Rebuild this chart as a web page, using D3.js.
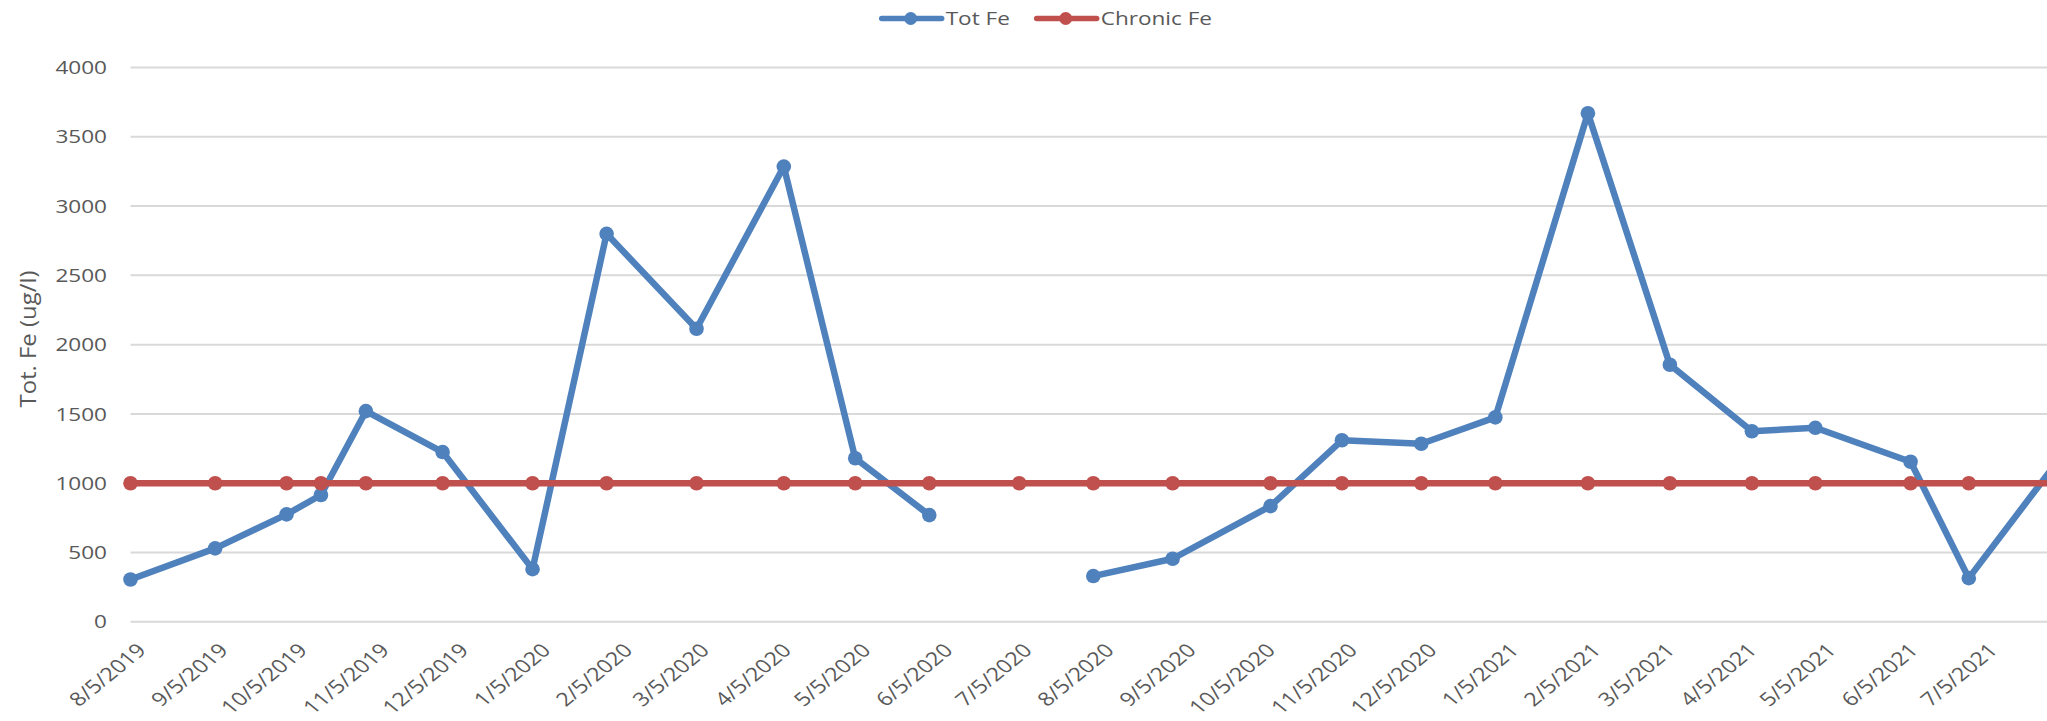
<!DOCTYPE html>
<html><head><meta charset="utf-8">
<script src="https://cdn.jsdelivr.net/npm/d3@7"></script>
<style>html,body{margin:0;padding:0;background:#fff;overflow:hidden}</style>
</head><body><div id="chart"></div>
<script>
// ---- data ----
const sampleDates = ["2019-08-05","2019-09-06","2019-10-03","2019-10-16","2019-11-02","2019-12-01",
  "2020-01-04","2020-02-01","2020-03-06","2020-04-08","2020-05-05","2020-06-02","2020-07-06",
  "2020-08-03","2020-09-02","2020-10-09","2020-11-05","2020-12-05","2021-01-02","2021-02-06",
  "2021-03-09","2021-04-09","2021-05-03","2021-06-08","2021-06-30","2021-08-03"];
const totFe = [305,530,775,915,1520,1225,380,2800,2115,3285,1180,770,null,
  330,455,835,1310,1285,1475,3670,1855,1375,1400,1155,315,1170];
const chronicFe = [1000,1000,1000,1000,1000,1000,1000,1000,1000,1000,1000,1000,1000,
  1000,1000,1000,1000,1000,1000,1000,1000,1000,1000,1000,1000,1000];
const xTickLabels = ["8/5/2019","9/5/2019","10/5/2019","11/5/2019","12/5/2019","1/5/2020",
  "2/5/2020","3/5/2020","4/5/2020","5/5/2020","6/5/2020","7/5/2020","8/5/2020","9/5/2020",
  "10/5/2020","11/5/2020","12/5/2020","1/5/2021","2/5/2021","3/5/2021","4/5/2021","5/5/2021",
  "6/5/2021","7/5/2021"];
const yTicks = [0,500,1000,1500,2000,2500,3000,3500,4000];
const seriesNames = ["Tot Fe","Chronic Fe"];
const yTitle = "Tot. Fe (ug/l)";

// ---- layout ----
const W = 2047, H = 721;
const SX = 1.22;               // horizontal text stretch seen in the reference
const FONT = "'Open Sans', 'Noto Sans', sans-serif";
const TXT = "#595959";
const BLUE = "#4F81BD", RED = "#C0504D";

const parseISO = d3.utcParse("%Y-%m-%d");
const parseMDY = d3.utcParse("%-m/%-d/%Y");

const x = d3.scaleUtc()
  .domain([parseISO("2019-08-05"), parseISO("2021-08-05")])
  .range([130.5, 130.5 + 731 * 2.645]);
const y = d3.scaleLinear().domain([0, 4000]).range([621.8, 67.5]);

const svg = d3.select("#chart").append("svg")
  .attr("width", W).attr("height", H)
  .style("display", "block").style("font-family", FONT);

svg.append("rect").attr("width", W).attr("height", H).attr("fill", "#fff");

// gridlines
svg.append("g").selectAll("line").data(yTicks).join("line")
  .attr("x1", x.range()[0]).attr("x2", W)
  .attr("y1", d => y(d)).attr("y2", d => y(d))
  .attr("stroke", "#D9D9D9").attr("stroke-width", 2);

// y tick labels
svg.append("g").selectAll("text").data(yTicks).join("text")
  .attr("transform", d => `translate(107,${y(d)}) scale(${SX},1)`)
  .attr("text-anchor", "end").attr("dy", "0.36em")
  .attr("font-size", 18.5).attr("fill", TXT)
  .text(d => d);

// y title
svg.append("text")
  .attr("transform", "translate(36,339) rotate(-90)")
  .attr("text-anchor", "middle")
  .attr("font-size", 21).attr("fill", TXT)
  .attr("textLength", 137).attr("lengthAdjust", "spacingAndGlyphs")
  .text(yTitle);

// x tick labels
svg.append("g").selectAll("text").data(xTickLabels).join("text")
  .attr("transform", d => `translate(${x(parseMDY(d)) + 5},642) scale(${SX},1) rotate(-45)`)
  .attr("text-anchor", "end").attr("dy", "0.72em")
  .attr("font-size", 19).attr("fill", TXT)
  .text(d => d);

// series
const rows = sampleDates.map((d, i) => ({ date: parseISO(d), tot: totFe[i], chr: chronicFe[i] }));

const series = [
  { name: seriesNames[0], color: BLUE, key: "tot" },
  { name: seriesNames[1], color: RED, key: "chr" }
];

series.forEach(s => {
  const pts = rows.map(r => ({ date: r.date, v: r[s.key] }));
  const line = d3.line().defined(p => p.v != null).x(p => x(p.date)).y(p => y(p.v));
  svg.append("path").datum(pts)
    .attr("d", line).attr("fill", "none")
    .attr("stroke", s.color).attr("stroke-width", 6.5)
    .attr("stroke-linejoin", "round");
  svg.append("g").selectAll("circle").data(pts.filter(p => p.v != null)).join("circle")
    .attr("cx", p => x(p.date)).attr("cy", p => y(p.v))
    .attr("r", 7.3).attr("fill", s.color);
});

// legend
const legendX = [881.7, 1036.7];
const lg = svg.append("g");
series.forEach((s, i) => {
  const g = lg.append("g").attr("transform", `translate(${legendX[i]},18.5)`);
  g.append("line").attr("x1", 0).attr("x2", 60).attr("y1", 0).attr("y2", 0)
    .attr("stroke", s.color).attr("stroke-width", 5.5).attr("stroke-linecap", "round");
  g.append("circle").attr("cx", 29).attr("cy", 0).attr("r", 6.5).attr("fill", s.color);
  g.append("text").attr("transform", `translate(64,0) scale(${SX},1)`)
    .attr("dy", "0.36em").attr("font-size", 18.5).attr("fill", TXT)
    .text(s.name);
});
</script>
</body></html>
